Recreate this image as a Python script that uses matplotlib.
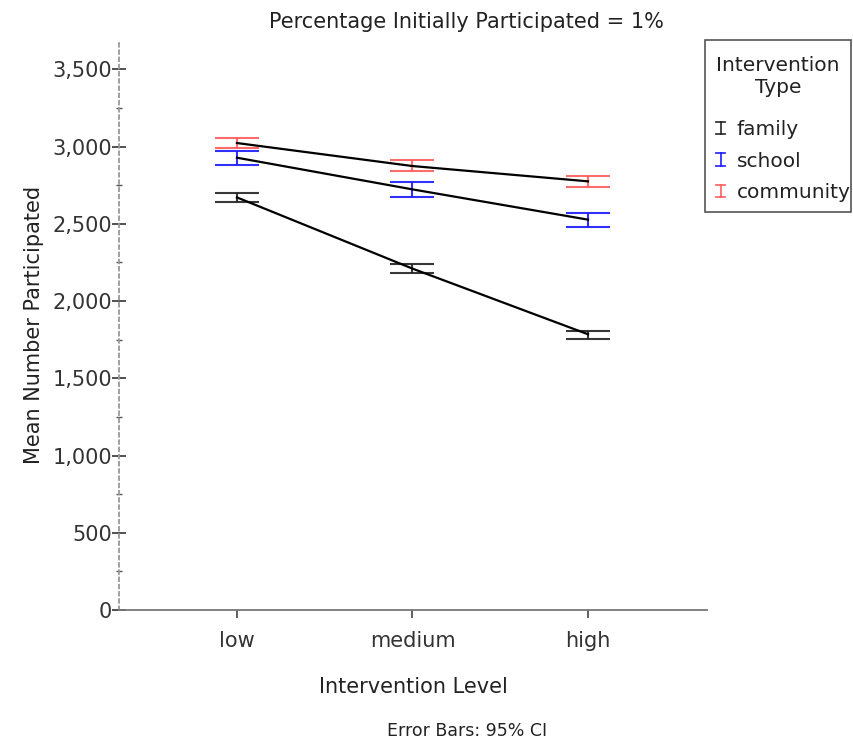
import matplotlib
matplotlib.use('Agg')
import matplotlib.pyplot as plt
from matplotlib.lines import Line2D
from matplotlib.patches import Rectangle
from matplotlib.ticker import FuncFormatter, MultipleLocator
from matplotlib.legend_handler import HandlerBase

plt.rcParams['font.family'] = ['DejaVu Sans']

levels = ['low', 'medium', 'high']
types = ['family', 'school', 'community']
colors = ['#222222', '#1a1aff', '#ff5c5c']

# group means and 95% CI bounds per intervention type
means = {
    'family':    [2671, 2210, 1785],
    'school':    [2928, 2723, 2527],
    'community': [3023, 2874, 2775],
}
ci_low = {
    'family':    [2639, 2184, 1757],
    'school':    [2878, 2673, 2479],
    'community': [2990, 2840, 2736],
}
ci_high = {
    'family':    [2697, 2238, 1806],
    'school':    [2969, 2770, 2568],
    'community': [3057, 2911, 2809],
}

W, H = 854, 747


class HandlerIBar(HandlerBase):
    """Legend key drawn as a small capped error bar ("I")."""

    def create_artists(self, legend, orig_handle, xdescent, ydescent,
                       width, height, fontsize, trans):
        c = orig_handle.get_color()
        a = orig_handle.get_alpha()
        cx = width / 2 - xdescent
        cy = height / 2 - ydescent
        h = 0.32 * fontsize
        w = 0.22 * fontsize
        kw = dict(color=c, alpha=a, lw=1.3, transform=trans)
        return [Line2D([cx, cx], [cy - h, cy + h], **kw),
                Line2D([cx - w, cx + w], [cy + h, cy + h], **kw),
                Line2D([cx - w, cx + w], [cy - h, cy - h], **kw)]


fig = plt.figure(figsize=(W / 100, H / 100), dpi=100)
ax = fig.add_axes([119/W, 137/H, (707-119)/W, (610-40)/H])

x = list(range(len(levels)))
handles = []
for t, c in zip(types, colors):
    ax.plot(x, means[t], color='black', lw=1.6, zorder=3)
    lo = [m - l for m, l in zip(means[t], ci_low[t])]
    hi = [h - m for m, h in zip(means[t], ci_high[t])]
    ax.errorbar(x, means[t], yerr=[lo, hi], fmt='none', ecolor=c,
                elinewidth=1.5, capsize=16, capthick=1.5, alpha=0.9, zorder=2)
    handles.append(Line2D([], [], color=c, alpha=0.9))

ax.set_xlim(-0.672, 2.678)
ax.set_ylim(0, 3690)
ax.set_xticks(x)
ax.set_xticklabels(levels)
ax.yaxis.set_major_locator(MultipleLocator(500))
ax.yaxis.set_minor_locator(MultipleLocator(250))
ax.yaxis.set_major_formatter(FuncFormatter(lambda v, p: f'{int(v):,}'))

for s in ['top', 'right']:
    ax.spines[s].set_visible(False)
ax.spines['left'].set_linestyle((0, (2, 2)))
ax.spines['left'].set_color('#999999')
ax.spines['left'].set_linewidth(1.3)
ax.spines['bottom'].set_color('#777777')
ax.spines['bottom'].set_linewidth(1.3)

ax.tick_params(axis='y', which='major', direction='inout', length=10,
               width=1.2, color='#333333', labelsize=15, labelcolor='#333333', pad=0)
ax.tick_params(axis='y', which='minor', direction='inout', length=4,
               width=1.0, color='#555555')
ax.tick_params(axis='x', which='major', direction='out', length=6,
               width=1.2, color='#444444', labelsize=15, labelcolor='#333333', pad=9)

ax.set_xlabel('Intervention Level', fontsize=15, color='#222222', labelpad=19)
ax.set_ylabel('Mean Number Participated', fontsize=15, color='#222222', labelpad=6)

fig.text(466/W, 1 - 22.5/H, 'Percentage Initially Participated = 1%',
         ha='center', va='center', fontsize=15, color='#222222')
fig.text(467/W, 1 - 731/H, 'Error Bars: 95% CI',
         ha='center', va='center', fontsize=12.5, color='#222222')

# legend: framed box with a two-line title and capped-bar keys
fig.patches.append(Rectangle((705/W, 1 - 212/H), 146/W, 172/H,
                             transform=fig.transFigure, fill=False,
                             edgecolor='#555555', lw=1.2))
fig.text(778/W, 1 - 76.5/H, 'Intervention\nType', ha='center', va='center',
         fontsize=14.5, linespacing=1.25, color='#222222')
leg = fig.legend(handles=handles, labels=types, loc='upper left',
                 bbox_to_anchor=(708.5/W, 1 - 114/H), fontsize=14.5,
                 handler_map={Line2D: HandlerIBar()}, frameon=False,
                 handlelength=0.6, handletextpad=0.5, borderpad=0.3,
                 labelspacing=0.62, borderaxespad=0)
for txt in leg.get_texts():
    txt.set_color('#222222')

fig.savefig('out.png', dpi=100)
